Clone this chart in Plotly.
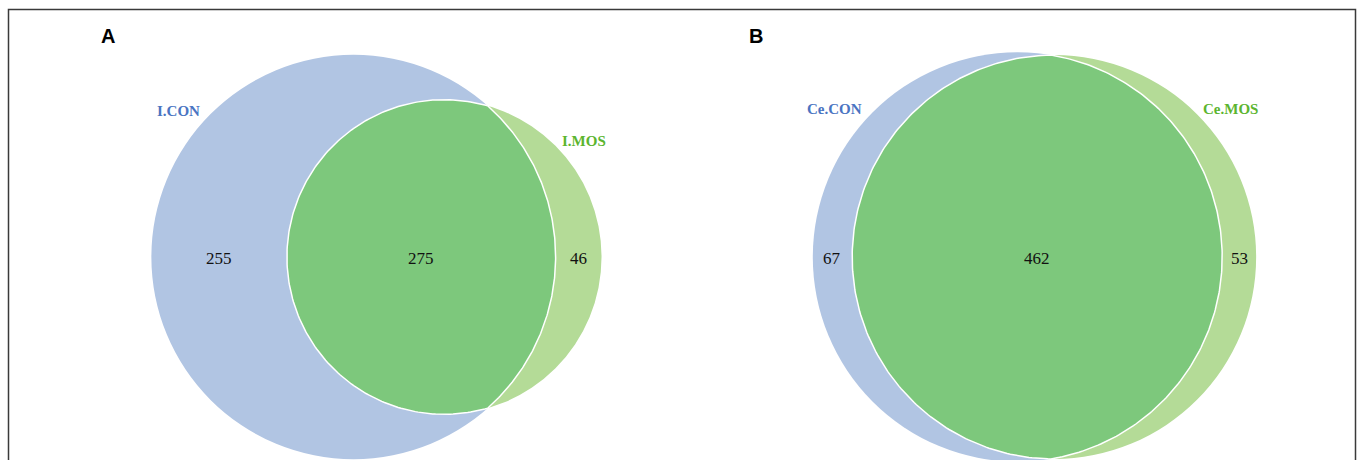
import numpy as np
import plotly.graph_objects as go

# Two-set Venn diagrams (area proportional)
panel_tags = ["A", "B"]
set_left = ["I.CON", "Ce.CON"]
set_right = ["I.MOS", "Ce.MOS"]
only_left = [255, 67]
shared = [275, 462]
only_right = [46, 53]

# Layout (pixel units)
W, H = 1357, 460
CY = 257.0
LEFT_CX = [353.5, 1017.5]
K = [8.78, 8.90]  # per-panel scale: radius = K * sqrt(set size)
TAG_POS = [(108, 36), (756, 36)]
LEFT_LABEL_POS = [(178, 111), (834, 109)]
RIGHT_LABEL_POS = [(584, 141), (1230, 109)]

BLUE = "#b1c5e3"
LIGHT_GREEN = "#b4db97"
DARK_GREEN = "#7dc87c"
BLUE_TXT = "#4a74c2"
GREEN_TXT = "#5cb52f"
SERIF = "Liberation Serif, Times New Roman, serif"
SANS = "Liberation Sans, Arial, sans-serif"


def lens_area(r1, r2, d):
    if d >= r1 + r2:
        return 0.0
    if d <= abs(r1 - r2):
        return np.pi * min(r1, r2) ** 2
    a1 = np.arccos((d * d + r1 * r1 - r2 * r2) / (2 * d * r1))
    a2 = np.arccos((d * d + r2 * r2 - r1 * r1) / (2 * d * r2))
    t = (-d + r1 + r2) * (d + r1 - r2) * (d - r1 + r2) * (d + r1 + r2)
    return r1 * r1 * a1 + r2 * r2 * a2 - 0.5 * np.sqrt(t)


def solve_distance(r1, r2, target):
    lo, hi = abs(r1 - r2) + 1e-6, r1 + r2 - 1e-6
    for _ in range(200):
        mid = 0.5 * (lo + hi)
        if lens_area(r1, r2, mid) > target:
            lo = mid
        else:
            hi = mid
    return 0.5 * (lo + hi)


fig = go.Figure()
shapes = []
annotations = []

for i in range(2):
    k = K[i]
    n1 = only_left[i] + shared[i]
    n2 = only_right[i] + shared[i]
    r1 = k * np.sqrt(n1)
    r2 = k * np.sqrt(n2)
    d = solve_distance(r1, r2, np.pi * k * k * shared[i])
    c1 = LEFT_CX[i]
    c2 = c1 + d

    shapes.append(dict(type="circle", xref="x", yref="y", x0=c1 - r1, x1=c1 + r1,
                       y0=CY - r1, y1=CY + r1, fillcolor=BLUE, line=dict(width=0),
                       layer="below"))
    shapes.append(dict(type="circle", xref="x", yref="y", x0=c2 - r2, x1=c2 + r2,
                       y0=CY - r2, y1=CY + r2, fillcolor=LIGHT_GREEN, line=dict(width=0),
                       layer="below"))

    # intersection lens
    xi = (d * d + r1 * r1 - r2 * r2) / (2 * d)
    h = np.sqrt(r1 * r1 - xi * xi)
    t1 = np.arctan2(h, xi)
    t2 = np.arctan2(h, d - xi)
    a = np.linspace(-t1, t1, 200)
    b = np.linspace(np.pi - t2, np.pi + t2, 200)
    xs = np.concatenate([c1 + r1 * np.cos(a), c2 + r2 * np.cos(b)])
    ys = np.concatenate([CY + r1 * np.sin(a), CY + r2 * np.sin(b)])
    fig.add_trace(go.Scatter(x=np.append(xs, xs[0]), y=np.append(ys, ys[0]),
                             mode="lines", fill="toself", fillcolor=DARK_GREEN,
                             line=dict(color="white", width=1.5), hoverinfo="skip",
                             showlegend=False))

    # region counts
    left_edge1, right_edge1 = c1 - r1, c1 + r1
    left_edge2, right_edge2 = c2 - r2, c2 + r2
    count_x = [(left_edge1 + left_edge2) / 2, (left_edge2 + right_edge1) / 2,
               (right_edge1 + right_edge2) / 2]
    for x, v in zip(count_x, [only_left[i], shared[i], only_right[i]]):
        annotations.append(dict(x=x, y=CY + 1, xref="x", yref="y", text=str(v),
                                showarrow=False, font=dict(family=SERIF, size=17, color="#111")))

    annotations.append(dict(x=LEFT_LABEL_POS[i][0], y=LEFT_LABEL_POS[i][1], xref="x", yref="y",
                            text="<b>%s</b>" % set_left[i], showarrow=False,
                            font=dict(family=SERIF, size=15, color=BLUE_TXT)))
    annotations.append(dict(x=RIGHT_LABEL_POS[i][0], y=RIGHT_LABEL_POS[i][1], xref="x", yref="y",
                            text="<b>%s</b>" % set_right[i], showarrow=False,
                            font=dict(family=SERIF, size=15, color=GREEN_TXT)))
    annotations.append(dict(x=TAG_POS[i][0], y=TAG_POS[i][1], xref="x", yref="y",
                            text="<b>%s</b>" % panel_tags[i], showarrow=False,
                            font=dict(family=SANS, size=20, color="black")))

# outer frame
shapes.append(dict(type="rect", xref="x", yref="y", x0=8.5, x1=1355.5, y0=9.5, y1=475,
                   line=dict(color="#3a3a3a", width=1.5), fillcolor="rgba(0,0,0,0)",
                   layer="above"))

fig.update_layout(
    width=W, height=H,
    margin=dict(l=0, r=0, t=0, b=0),
    paper_bgcolor="white", plot_bgcolor="white",
    xaxis=dict(range=[0, W], visible=False, fixedrange=True),
    yaxis=dict(range=[H, 0], visible=False, fixedrange=True),
    shapes=shapes, annotations=annotations,
    showlegend=False,
)

fig.write_html("out.html")
